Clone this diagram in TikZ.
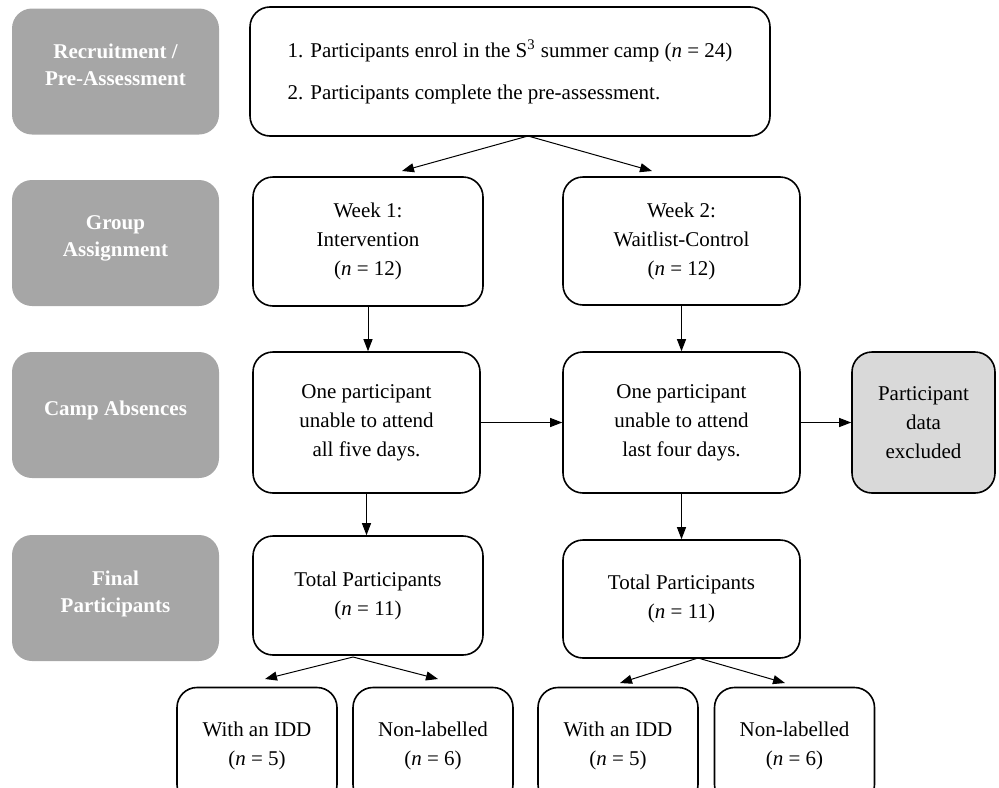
\documentclass[tikz,border=0pt]{standalone}
\usepackage{fontspec}
\setmainfont{Liberation Serif}
\usetikzlibrary{arrows.meta, positioning}
\definecolor{phasegray}{HTML}{A6A6A6}
\definecolor{exclgray}{HTML}{D9D9D9}

\begin{document}
\begin{tikzpicture}[x=0.5pt, y=-0.5pt, >={Triangle[length=6pt, width=4.5pt]},
  font=\fontsize{10.5}{14.5}\selectfont,
  phase/.style={fill=phasegray, rounded corners=10pt, text=white, align=center, text depth=6.5pt,
    font=\fontsize{10.5}{13.5}\selectfont\bfseries, minimum width=103.5pt, minimum height=63pt},
  box/.style={draw, line width=0.8pt, rounded corners=10pt, align=center, inner sep=0pt},
  link/.style={->, line width=0.5pt}]

\useasboundingbox (0,0) rectangle (999,787);

% Left column: study phases
\node[phase] (p1) at (115.5, 71.5) {Recruitment /\\Pre-Assessment};
\node[phase] (p2) at (115.5, 243)  {Group\\Assignment};
\node[phase] (p3) at (115.5, 415)  {Camp Absences};
\node[phase] (p4) at (115.5, 598)  {Final\\Participants};

% Flow boxes
\node[box, align=left, minimum width=260pt, minimum height=64.5pt] (enrol) at (510, 71.5)
  {1. Participants enrol in the S\textsuperscript{3} summer camp (\textit{n} = 24)\\[6.5pt]
   2. Participants complete the pre-assessment.};
\node[box, minimum width=115pt, minimum height=64.5pt] (wk1) at (368, 241.5) {Week 1:\\Intervention\\(\textit{n} = 12)};
\node[box, minimum width=118.5pt, minimum height=64pt] (wk2) at (681.5, 241) {Week 2:\\Waitlist-Control\\(\textit{n} = 12)};
\node[box, minimum width=113.5pt, minimum height=70.5pt] (abs1) at (366.5, 422.5) {One participant\\unable to attend\\all five days.};
\node[box, minimum width=118.5pt, minimum height=70.5pt] (abs2) at (681.5, 422.5) {One participant\\unable to attend\\last four days.};
\node[box, fill=exclgray, minimum width=71.5pt, minimum height=70.5pt] (excl) at (923.5, 422.5) {Participant\\data\\excluded};
\node[box, minimum width=115pt, minimum height=59.5pt] (tot1) at (368, 595.5) {Total Participants\\(\textit{n} = 11)};
\node[box, minimum width=118.5pt, minimum height=59pt] (tot2) at (681.5, 599) {Total Participants\\(\textit{n} = 11)};
\node[box, minimum width=80pt, minimum height=58.5pt] (idd1) at (257, 746)   {With an IDD\\(\textit{n} = 5)};
\node[box, minimum width=80pt, minimum height=58.5pt] (non1) at (433, 746)   {Non-labelled\\(\textit{n} = 6)};
\node[box, minimum width=80pt, minimum height=58.5pt] (idd2) at (618, 746)   {With an IDD\\(\textit{n} = 5)};
\node[box, minimum width=80pt, minimum height=58.5pt] (non2) at (794.5, 746) {Non-labelled\\(\textit{n} = 6)};

% Fork points and arrow ends
\coordinate (fork0) at (528, 136);
\coordinate (wk1in) at (402, 171);
\coordinate (wk2in) at (652, 171);
\coordinate (fork1) at (353, 657);
\coordinate (idd1in) at (265, 679);
\coordinate (non1in) at (438, 679);
\coordinate (fork2) at (698, 658);
\coordinate (idd2in) at (620, 683);
\coordinate (non2in) at (785, 683);

\draw[link] (fork0) -- (wk1in);
\draw[link] (fork0) -- (wk2in);
\draw[link] (wk1.south) -- (wk1.south |- abs1.north);
\draw[link] (wk2) -- (abs2);
\draw[link] (abs1) -- (abs2);
\draw[link] (abs2) -- (excl);
\draw[link] (abs1.south) -- (abs1.south |- tot1.north);
\draw[link] (abs2) -- (tot2);
\draw[link] (fork1) -- (idd1in);
\draw[link] (fork1) -- (non1in);
\draw[link] (fork2) -- (idd2in);
\draw[link] (fork2) -- (non2in);

\end{tikzpicture}
\end{document}
